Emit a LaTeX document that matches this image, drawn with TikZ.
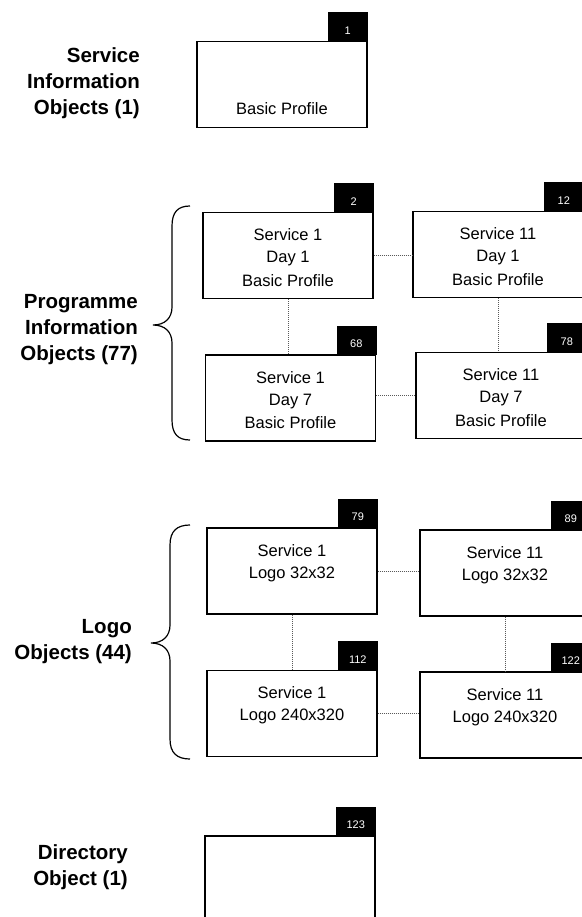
\documentclass[tikz,border=0pt]{standalone}
\usepackage{fontspec}
\setmainfont{Liberation Sans}
\newcommand{\tstr}{\rule[-3pt]{0pt}{22pt}}
\newcommand{\tabnum}[1]{\smash{\raisebox{-7.5pt}{#1}}}
\tikzset{
  objbox/.style={draw, line width=1.2pt, minimum width=170pt, minimum height=86pt,
    inner sep=0pt, align=center, font=\fontsize{16.5}{22}\selectfont},
  tabbox/.style={fill=black, draw=black, line width=0.6pt, minimum width=39pt, minimum height=28pt,
    inner sep=0pt, anchor=south east, text=white, font=\fontsize{11}{12}\selectfont},
  grouplabel/.style={inner sep=0pt, anchor=east, align=right, font=\fontsize{20.5}{26}\selectfont\bfseries},
  conn/.style={line width=0.9pt, gray!70!black, dash pattern=on 1pt off 1pt},
  bracel/.style={line width=1.2pt}
}
\begin{document}
\begin{tikzpicture}[x=1pt, y=-1pt]
\useasboundingbox (0,0) rectangle (581,917);

% group labels
\node[grouplabel] (lsio) at (140,83) {Service\\Information\\Objects (1)};
\node[grouplabel] (lpio) at (138,330) {Programme\\Information\\Objects (77)};
\node[grouplabel] (llogo) at (132,642) {Logo\\Objects (44)};
\node[grouplabel] (ldir) at (128,867) {Directory\\Object (1)};

% boxes
\node[objbox] (b1) at (282,84.5) {\tstr\\\tstr\\\tstr Basic Profile};
\node[objbox] (b2) at (288,255.5) {\tstr Service 1\\\tstr Day 1\\\tstr Basic Profile};
\node[objbox] (b12) at (498,254.5) {\tstr Service 11\\\tstr Day 1\\\tstr Basic Profile};
\node[objbox] (b68) at (290.5,398) {\tstr Service 1\\\tstr Day 7\\\tstr Basic Profile};
\node[objbox] (b78) at (501,395.5) {\tstr Service 11\\\tstr Day 7\\\tstr Basic Profile};
\node[objbox] (b79) at (292,571) {\tstr Service 1\\\tstr Logo 32x32\\\tstr};
\node[objbox] (b89) at (505,573) {\tstr Service 11\\\tstr Logo 32x32\\\tstr};
\node[objbox] (b112) at (292,713.5) {\tstr Service 1\\\tstr Logo 240x320\\\tstr};
\node[objbox] (b122) at (505,715) {\tstr Service 11\\\tstr Logo 240x320\\\tstr};
\node[objbox] (b123) at (290,879) {};

% tabs
\node[tabbox] (t1) at (b1.north east) {\tabnum{1}};
\node[tabbox] (t2) at (b2.north east) {\tabnum{2}};
\node[tabbox] (t12) at (b12.north east) {\tabnum{12}};
\node[tabbox] (t68) at (b68.north east) {\tabnum{68}};
\node[tabbox] (t78) at (b78.north east) {\tabnum{78}};
\node[tabbox] (t79) at (b79.north east) {\tabnum{79}};
\node[tabbox] (t89) at (b89.north east) {\tabnum{89}};
\node[tabbox] (t112) at (b112.north east) {\tabnum{112}};
\node[tabbox] (t122) at (b122.north east) {\tabnum{122}};
\node[tabbox] (t123) at (b123.north east) {\tabnum{123}};

% connectors
\draw[conn] (b2.east) -- (b2.east -| b12.west);
\draw[conn] (b2.south) -- (b2.south |- b68.north);
\draw[conn] (b12.south) -- (b12.south |- b78.north);
\draw[conn] (b78.west -| b68.east) -- (b78.west);
\draw[conn] (b79.east) -- (b79.east -| b89.west);
\draw[conn] (b79.south) -- (b79.south |- b112.north);
\draw[conn] (b89.south) -- (b89.south |- b122.north);
\draw[conn] (b112.east) -- (b112.east -| b122.west);

% braces
\draw[bracel] (190,206) .. controls (178,206) and (172,212) .. (172,226) -- (172,307)
  .. controls (172,318) and (165,325) .. (153,325)
  .. controls (165,325) and (172,332) .. (172,343) -- (172,420)
  .. controls (172,434) and (178,440) .. (190,440);
\draw[bracel] (190,525) .. controls (177,525) and (170,531) .. (170,545) -- (170,625)
  .. controls (170,636) and (163,643) .. (151,643)
  .. controls (163,643) and (170,650) .. (170,661) -- (170,739)
  .. controls (170,753) and (177,759) .. (190,759);
\end{tikzpicture}
\end{document}
